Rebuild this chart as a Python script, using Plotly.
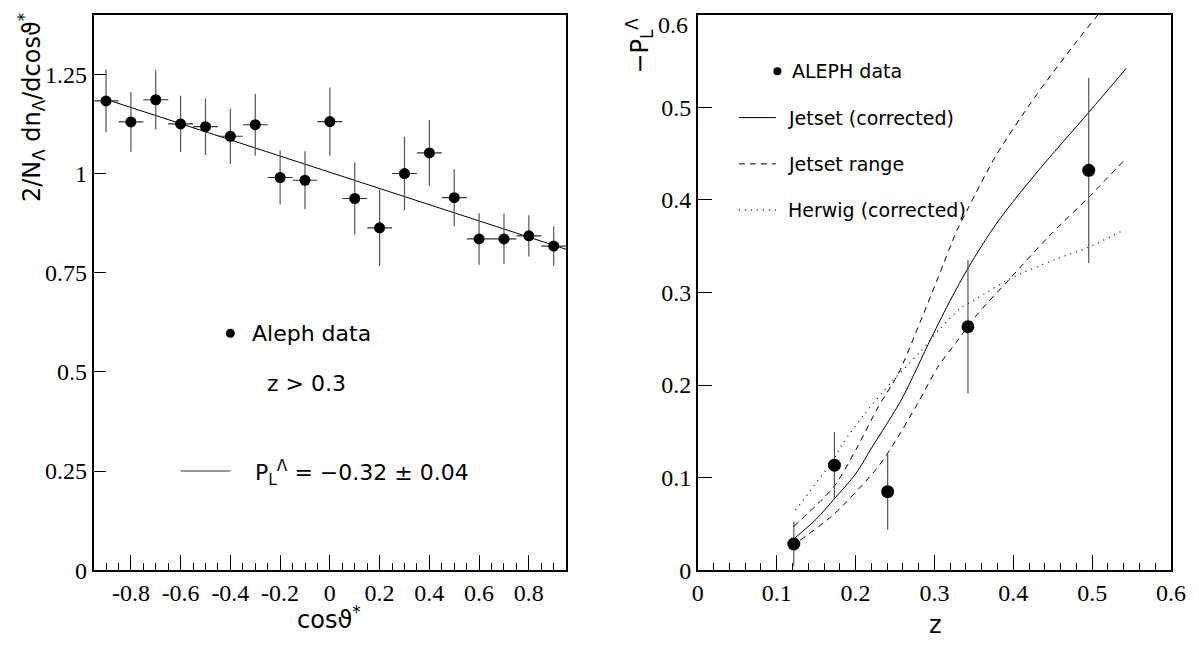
import plotly.graph_objects as go

W, H = 1199, 647

# ---------------- Left panel data ----------------
cos_x = [-0.9, -0.8, -0.7, -0.6, -0.5, -0.4, -0.3, -0.2, -0.1, 0.0,
         0.1, 0.2, 0.3, 0.4, 0.5, 0.6, 0.7, 0.8, 0.9]
dist_y = [1.183, 1.130, 1.186, 1.125, 1.118, 1.094, 1.123, 0.990, 0.983, 1.131,
          0.937, 0.863, 1.000, 1.052, 0.939, 0.835, 0.835, 0.843, 0.817]
dist_err = [0.079, 0.075, 0.075, 0.071, 0.071, 0.070, 0.078, 0.068, 0.073, 0.086,
            0.091, 0.096, 0.093, 0.083, 0.072, 0.065, 0.064, 0.052, 0.050]
bin_half = [0.05] * len(cos_x)
fit_x = [-0.9, 0.95]
fit_y = [1.187, 0.809]

# ---------------- Right panel data ----------------
z_pts = [0.1217, 0.1732, 0.2407, 0.3425, 0.4956]
pl_pts = [0.0283, 0.1134, 0.0848, 0.2630, 0.432]
pl_err = [0.024, 0.036, 0.041, 0.072, 0.100]

jet_z = [0.122, 0.15, 0.173, 0.2, 0.221, 0.258, 0.296, 0.321, 0.343, 0.379, 0.428, 0.496, 0.543]
jet_v = [0.034, 0.055, 0.077, 0.104, 0.133, 0.184, 0.251, 0.293, 0.327, 0.375, 0.428, 0.495, 0.542]

up_z = [0.1217, 0.173, 0.2021, 0.2291, 0.254, 0.279, 0.3039, 0.3288, 0.3433, 0.3786, 0.4284, 0.4782, 0.5072, 0.542]
up_v = [0.0473, 0.0908, 0.1328, 0.177, 0.212, 0.262, 0.3146, 0.3676, 0.392, 0.4488, 0.5124, 0.5689, 0.600, 0.637]

lo_z = [0.130, 0.173, 0.227, 0.2457, 0.279, 0.3039, 0.3288, 0.3537, 0.3952, 0.445, 0.4956, 0.5426]
lo_v = [0.0325, 0.0608, 0.110, 0.1328, 0.1805, 0.219, 0.2476, 0.2758, 0.3146, 0.3606, 0.403, 0.4446]

her_z = [0.124, 0.173, 0.1834, 0.2126, 0.2457, 0.2831, 0.308, 0.3329, 0.3537, 0.3952, 0.4533, 0.4956, 0.5363]
her_v = [0.065, 0.121, 0.1363, 0.170, 0.2034, 0.237, 0.2617, 0.2828, 0.2934, 0.3146, 0.3358, 0.349, 0.3659]

SANS = "DejaVu Sans"
SERIF = "Liberation Serif"
DASH = "6px,5px"
DOT = "1px,5px"

fig = go.Figure()

# Left panel
fig.add_trace(go.Scatter(
    x=fit_x, y=fit_y, mode="lines", line=dict(color="black", width=1),
    xaxis="x", yaxis="y", showlegend=False, hoverinfo="skip"))
fig.add_trace(go.Scatter(
    x=cos_x, y=dist_y, mode="markers",
    marker=dict(color="black", size=11),
    error_y=dict(type="data", array=dist_err, width=0, thickness=1.2, color="#555"),
    error_x=dict(type="data", array=bin_half, width=0, thickness=1.2, color="#333"),
    xaxis="x", yaxis="y", showlegend=False))
# left legend
fig.add_trace(go.Scatter(x=[-0.4], y=[0.597], mode="markers",
                         marker=dict(color="black", size=9),
                         xaxis="x", yaxis="y", showlegend=False))
fig.add_trace(go.Scatter(x=[-0.60, -0.40], y=[0.25, 0.25], mode="lines",
                         line=dict(color="#333", width=1),
                         xaxis="x", yaxis="y", showlegend=False))

# Right panel
def curve(zs, vs, dash=None, width=1.0):
    fig.add_trace(go.Scatter(x=zs, y=vs, mode="lines",
                             line=dict(color="black", width=width, dash=dash,
                                       shape="spline", smoothing=0.8),
                             xaxis="x2", yaxis="y2", showlegend=False))

curve(up_z, up_v, DASH)
curve(lo_z, lo_v, DASH)
curve(her_z, her_v, DOT, 1.2)
curve(jet_z, jet_v, None)

fig.add_trace(go.Scatter(
    x=z_pts, y=pl_pts, mode="markers",
    marker=dict(color="black", size=13),
    error_y=dict(type="data", array=pl_err, width=0, thickness=1.2, color="#555"),
    xaxis="x2", yaxis="y2", showlegend=False))
# right legend
fig.add_trace(go.Scatter(x=[0.1009], y=[0.539], mode="markers",
                         marker=dict(color="black", size=8),
                         xaxis="x2", yaxis="y2", showlegend=False))
fig.add_trace(go.Scatter(x=[0.052, 0.099], y=[0.489, 0.489], mode="lines",
                         line=dict(color="black", width=1),
                         xaxis="x2", yaxis="y2", showlegend=False))
fig.add_trace(go.Scatter(x=[0.052, 0.099], y=[0.439, 0.439], mode="lines",
                         line=dict(color="black", width=1, dash=DASH),
                         xaxis="x2", yaxis="y2", showlegend=False))
fig.add_trace(go.Scatter(x=[0.052, 0.099], y=[0.389, 0.389], mode="lines",
                         line=dict(color="black", width=1.2, dash=DOT),
                         xaxis="x2", yaxis="y2", showlegend=False))

ybot = (H - 573.7) / H
ytop = (H - 7) / H

axis_common = dict(showline=True, linecolor="black", linewidth=1.5, mirror=True,
                   ticks="inside", tickcolor="black", tickwidth=1.2,
                   showgrid=False, zeroline=False, ticklabeloverflow="allow",
                   tickfont=dict(family=SERIF, size=24, color="black"))

fig.update_layout(
    width=W, height=H,
    margin=dict(l=0, r=0, t=0, b=0),
    paper_bgcolor="white", plot_bgcolor="white",
    xaxis=dict(domain=[81 / W, 562 / W], range=[-0.95, 0.95],
               tickvals=[-0.8, -0.6, -0.4, -0.2, 0, 0.2, 0.4, 0.6, 0.8],
               ticktext=["-0.8", "-0.6", "-0.4", "-0.2", "0", "0.2", "0.4", "0.6", "0.8"],
               ticklen=15,
               minor=dict(ticks="inside", ticklen=7, tick0=-0.9, dtick=0.05,
                          tickcolor="black", tickwidth=1),
               anchor="y", **axis_common),
    yaxis=dict(domain=[ybot, ytop], range=[0, 1.4],
               tickvals=[0, 0.25, 0.5, 0.75, 1, 1.25],
               ticktext=["0", "0.25", "0.5", "0.75", "1", "1.25"],
               ticklen=13, anchor="x", **axis_common),
    xaxis2=dict(domain=[696 / W, 1177.7 / W], range=[0, 0.6],
                tickvals=[0, 0.1, 0.2, 0.3, 0.4, 0.5, 0.6],
                ticktext=["0", "0.1", "0.2", "0.3", "0.4", "0.5", "0.6"],
                ticklen=15,
                minor=dict(ticks="inside", ticklen=7, tick0=0, dtick=0.02,
                           tickcolor="black", tickwidth=1),
                anchor="y2", **axis_common),
    yaxis2=dict(domain=[ybot, ytop], range=[0, 0.6],
                tickvals=[0, 0.1, 0.2, 0.3, 0.4, 0.5],
                ticktext=["0", "0.1", "0.2", "0.3", "0.4", "0.5"],
                ticklen=14, anchor="x2", **axis_common),
)

ann = []
def txt(x, y, text, size, xref, yref, xanchor="left", yanchor="middle", angle=0, family=SANS):
    ann.append(dict(x=x, y=y, xref=xref, yref=yref, text=text, showarrow=False,
                    xanchor=xanchor, yanchor=yanchor, textangle=angle,
                    font=dict(family=family, size=size, color="black")))

# top "0.6" tick label of the right panel (kept inside the page)
txt(688 / W, 1 - 2 / H, "0.6", 24, "paper", "paper", xanchor="right", yanchor="top", family=SERIF)

# left in-plot texts
txt(-0.32, 0.597, "Aleph data", 22, "x", "y")
txt(-0.095, 0.471, "z &gt; 0.3", 22, "x", "y", xanchor="center")
txt(-0.31, 0.245, "P<sub>L</sub><sup>Λ</sup> = −0.32 ± 0.04", 22, "x", "y")
# right in-plot texts
txt(0.117, 0.539, "ALEPH data", 19, "x2", "y2")
txt(0.112, 0.489, "Jetset (corrected)", 19, "x2", "y2")
txt(0.112, 0.439, "Jetset range", 19, "x2", "y2")
txt(0.112, 0.389, "Herwig (corrected)", 19, "x2", "y2")

# axis titles
txt(18 / W, 1 - 3 / H, "2/N<sub>Λ</sub> dn<sub>Λ</sub>/dcosϑ<sup>*</sup>", 24, "paper", "paper",
    xanchor="center", yanchor="top", angle=-90)
txt(321 / W, 1 - 622 / H, "cosϑ<sup>*</sup>", 24, "paper", "paper", xanchor="center")
txt(637 / W, 1 - 8 / H, "−P<sub>L</sub><sup>Λ</sup>", 24, "paper", "paper",
    xanchor="center", yanchor="top", angle=-90)
txt(938 / W, 1 - 630 / H, "z", 24, "paper", "paper", xanchor="center")

fig.update_layout(annotations=ann)

fig.write_html("out.html")
